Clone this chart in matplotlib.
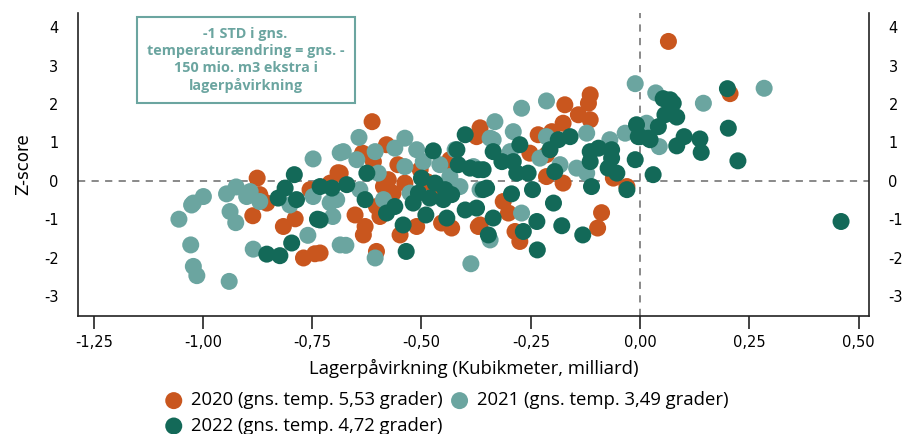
#!/usr/bin/env python3
import numpy as np
import matplotlib
matplotlib.use("Agg")
import matplotlib.pyplot as plt
from matplotlib.ticker import FuncFormatter

# lagerpaavirkning (x) og z-score (y) pr. aar
x_2020 = [0.065, 0.206, -0.114, -0.118, -0.172, -0.141, -0.114, -0.176, -0.202, -0.233,
          -0.366, -0.374, -0.252, -0.214, -0.176, -0.214, -0.061, -0.030, -0.313, -0.301,
          -0.088, -0.097, -0.286, -0.275, -0.366, -0.613, -0.580, -0.635, -0.610, -0.686,
          -0.709, -0.576, -0.587, -0.565, -0.538, -0.603, -0.595, -0.652, -0.629, -0.633,
          -0.549, -0.511, -0.603, -0.732, -0.454, -0.431, -0.370, -0.488, -0.469, -0.435,
          -0.435, -0.876, -0.870, -0.854, -0.886, -0.816, -0.789, -0.770, -0.744, -0.755,
          -0.691, -0.503, -0.554]
y_2020 = [3.63, 2.27, 2.24, 2.02, 1.98, 1.72, 1.59, 1.50, 1.28, 1.20,
          1.38, 1.15, 0.72, 0.68, -0.06, 0.11, 0.07, -0.15, -0.54, -0.84,
          -0.83, -1.23, -1.32, -1.58, -1.15, 1.54, 0.94, 0.72, 0.50, 0.20,
          -0.06, 0.03, -0.15, -0.32, -0.06, -0.67, -0.93, -0.89, -1.19, -1.41,
          -1.41, -1.19, -1.84, -1.88, -1.10, -1.23, -1.19, -0.02, -0.23, 0.33,
          0.55, 0.07, -0.36, -0.58, -0.91, -1.19, -0.99, -2.01, -1.90, -0.23,
          0.21, 0.29, 0.42]

x_2021 = [-0.748, -0.686, -1.022, -0.999, -1.026, -1.055, -0.938, -0.925, -0.946, -0.924,
          -0.892, -0.870, -0.900, -1.028, -1.022, -1.014, -0.940, -0.885, -0.760, -0.801,
          -0.748, -0.709, -0.703, -0.686, -0.643, -0.538, -0.679, -0.648, -0.606, -0.561,
          -0.511, -0.538, -0.496, -0.599, -0.641, -0.694, -0.587, -0.526, -0.435, -0.412,
          -0.332, -0.343, -0.381, -0.366, -0.673, -0.606, -0.387, -0.343, -0.011, -0.271,
          -0.214, -0.290, -0.214, -0.122, -0.069, -0.034, -0.336, -0.297, -0.229, -0.183,
          -0.145, -0.122, -0.271, 0.015, 0.036, 0.145, 0.284, 0.044, -0.423, -0.458]
y_2021 = [0.57, 0.73, -0.58, -0.41, -0.63, -1.00, -0.80, -1.09, -0.34, -0.16,
          -0.28, -0.54, -0.41, -1.67, -2.23, -2.47, -2.62, -1.78, -1.42, -0.63,
          -0.41, -0.57, -0.93, -1.67, 1.13, 1.11, 0.76, 0.55, 0.76, 0.85,
          0.81, 0.37, 0.50, 0.20, -0.23, -0.49, -0.49, -0.32, 0.11, -0.15,
          1.54, 1.11, 0.37, -0.23, -1.68, -2.01, -2.16, -1.54, 2.53, 1.89,
          2.08, 1.28, 1.15, 1.24, 1.07, 1.24, 1.07, 0.76, 0.59, 0.42,
          0.33, 0.20, -0.84, 1.50, 2.29, 2.02, 2.41, 0.89, 0.81, 0.42]

x_2022 = [-0.791, -0.812, -0.828, -0.786, -0.732, -0.705, -0.738, -0.797, -0.854, -0.824,
          -0.400, -0.473, -0.419, -0.416, -0.389, -0.370, -0.336, -0.625, -0.671, -0.629,
          -0.500, -0.469, -0.507, -0.519, -0.481, -0.446, -0.431, -0.450, -0.580, -0.561,
          -0.542, -0.490, -0.442, -0.400, -0.374, -0.336, -0.347, -0.535, -0.732, -0.359,
          -0.275, -0.316, -0.290, -0.282, -0.256, -0.359, -0.206, -0.187, -0.160, -0.195,
          -0.114, -0.095, -0.065, -0.065, -0.114, -0.073, -0.053, -0.008, -0.004, 0.019,
          -0.011, 0.030, -0.111, -0.030, -0.246, -0.294, -0.351, -0.198, -0.236, -0.179,
          -0.131, -0.267, -0.235, 0.200, 0.053, 0.069, 0.076, 0.057, 0.084, 0.042,
          0.000, 0.023, 0.101, 0.084, 0.137, 0.140, 0.202, 0.224, 0.460]
y_2022 = [0.16, -0.19, -0.45, -0.49, -0.15, -0.19, -1.00, -1.62, -1.91, -1.95,
          1.20, 0.78, 0.81, 0.42, 0.33, 0.29, 0.76, 0.20, -0.10, -0.49,
          0.07, -0.06, -0.32, -0.58, -0.45, -0.23, -0.36, -0.49, -0.84, -0.67,
          -1.15, -0.89, -0.97, -0.76, -0.71, -0.97, -1.41, -1.84, -1.02, -0.23,
          0.94, 0.50, 0.50, 0.20, 0.20, 0.29, 0.81, 1.07, 1.15, 0.24,
          0.76, 0.85, 0.81, 0.59, 0.50, 0.33, 0.20, 1.46, 1.15, 1.11,
          0.55, 0.16, -0.15, -0.23, -0.23, -0.34, -0.19, -0.58, -1.06, -1.17,
          -1.41, -1.32, -1.80, 2.40, 2.14, 2.11, 2.02, 1.72, 1.66, 1.41,
          1.15, 1.07, 1.15, 0.91, 1.09, 0.74, 1.37, 0.52, -1.06]

labels = ["2020 (gns. temp. 5,53 grader)",
          "2021 (gns. temp. 3,49 grader)",
          "2022 (gns. temp. 4,72 grader)"]
colors = ["#C9561E", "#6BA5A0", "#136958"]

xticks = [-1.25, -1.0, -0.75, -0.5, -0.25, 0.0, 0.25, 0.5]
yticks = [-3, -2, -1, 0, 1, 2, 3, 4]

note = "-1 STD i gns.\ntemperaturændring = gns. -\n150 mio. m3 ekstra i\nlagerpåvirkning"

plt.rcParams['axes.unicode_minus'] = False

fig = plt.figure(figsize=(9.14, 4.34), dpi=100)
ax = fig.add_axes([0.0853, 0.272, 0.8655, 0.698])

ax.axhline(0, color="#808080", lw=1.3, ls=(0, (4, 3.5)), zorder=1)
ax.axvline(0, color="#808080", lw=1.3, ls=(0, (4, 3.5)), zorder=1)

handles = []
for xs, ys, c, lab in zip([x_2020, x_2021, x_2022], [y_2020, y_2021, y_2022], colors, labels):
    h = ax.scatter(xs, ys, s=150, color=c, edgecolors="none", label=lab, zorder=2)
    handles.append(h)

ax.set_xlim(-1.286, 0.524)
ax.set_ylim(-3.52, 4.37)
ax.set_xticks(xticks)
ax.set_yticks(yticks)
ax.xaxis.set_major_formatter(FuncFormatter(lambda v, p: f"{v:.2f}".replace(".", ",")))
ax.yaxis.set_major_formatter(FuncFormatter(lambda v, p: f"{int(v)}"))

ax.spines['top'].set_visible(False)
for s in ['left', 'right', 'bottom']:
    ax.spines[s].set_linewidth(1.2)
    ax.spines[s].set_color("#222222")

ax.tick_params(axis='x', direction='out', length=9, width=1.2, color="#222222",
               labelsize=10.5, pad=5)
ax.tick_params(axis='y', length=0, labelsize=10.5, pad=14, labelleft=True, labelright=True)

ax.set_ylabel("Z-score", fontsize=12, family="DejaVu Sans", labelpad=8)
ax.set_xlabel("Lagerpåvirkning (Kubikmeter, milliard)", fontsize=13.3, family="Open Sans", labelpad=6)

ax.text(0.212, 0.845, note, transform=ax.transAxes, ha="center", va="center",
        fontsize=10.4, family="Open Sans", fontweight="bold", color="#6BA5A0", linespacing=1.25,
        bbox=dict(boxstyle="square,pad=0.7", fc="white", ec="#6BA5A0", lw=1.5), zorder=3)

# raekkefolge saa 2020 og 2021 staar i forste raekke
order = [0, 2, 1]
fig.legend([handles[i] for i in order], [labels[i] for i in order],
           loc="upper left", bbox_to_anchor=(0.18, 0.098), ncol=2, frameon=False,
           prop={"family": "Open Sans", "size": 13.3}, handletextpad=0.45, columnspacing=0.4,
           labelspacing=0.4, borderaxespad=0, borderpad=0, handlelength=1.0)

fig.savefig("out.png", dpi=100)
